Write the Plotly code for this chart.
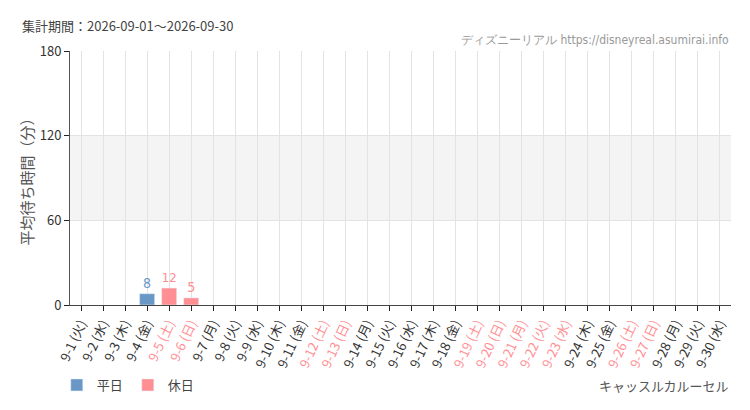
import plotly.graph_objects as go

# datos del periodo
dias = [str(d) for d in range(1, 31)]
youbi = ['火', '水', '木', '金', '土', '日', '月', '火', '水', '木', '金', '土', '日', '月', '火',
         '水', '木', '金', '土', '日', '月', '火', '水', '木', '金', '土', '日', '月', '火', '水']
kyujitsu = [5, 6, 12, 13, 19, 20, 21, 22, 23, 26, 27]  # dias festivos / fin de semana
heijitsu_val = {4: 8}
kyujitsu_val = {5: 12, 6: 5}

AZUL = '#6a98c6'
ROSA = '#ff8f93'
COND = 'DejaVu Sans Condensed, DejaVu Sans'

cats = ['9-{}'.format(d) for d in dias]
ticktext = []
for d, y in zip(dias, youbi):
    t = '9-{} ({})'.format(d, y)
    if int(d) in kyujitsu:
        t = '<span style="color:{}">{}</span>'.format(ROSA, t)
    ticktext.append(t)

y_hei = [heijitsu_val.get(int(d)) for d in dias]
y_kyu = [kyujitsu_val.get(int(d)) for d in dias]

fig = go.Figure()
fig.add_trace(go.Bar(x=cats, y=y_hei, name='平日', marker_color=AZUL,
                     text=y_hei, textposition='outside', cliponaxis=False,
                     textfont=dict(color=AZUL, size=14, family=COND)))
fig.add_trace(go.Bar(x=cats, y=y_kyu, name='休日', marker_color=ROSA,
                     text=y_kyu, textposition='outside', cliponaxis=False,
                     textfont=dict(color=ROSA, size=14, family=COND)))

# banda gris 60-120
fig.add_shape(type='rect', xref='paper', yref='y', x0=0, x1=1, y0=60, y1=120,
              fillcolor='#f4f4f4', line_width=0, layer='below')

fig.add_annotation(xref='paper', yref='paper', x=-0.076, y=1.10, xanchor='left', yanchor='middle',
                   text='集計期間：2026-09-01～2026-09-30', showarrow=False,
                   font=dict(size=13, color='#444'))
fig.add_annotation(xref='paper', yref='paper', x=1, y=1.045, xanchor='right', yanchor='middle',
                   text='ディズニーリアル https://disneyreal.asumirai.info', showarrow=False,
                   font=dict(size=12, color='#999', family=COND))
fig.add_annotation(xref='paper', yref='paper', x=1, y=-0.315, xanchor='right', yanchor='middle',
                   text='キャッスルカルーセル', showarrow=False,
                   font=dict(size=13, color='#555'))

# la pagina tiene 8px de margen en el body
fig.update_layout(width=742, height=402, margin=dict(l=62, r=19, t=43, b=105, autoexpand=False),
                  plot_bgcolor='white', paper_bgcolor='white',
                  barmode='overlay', bargap=0.32,
                  font=dict(family='Noto Sans CJK JP', color='#333'),
                  showlegend=True,
                  legend=dict(orientation='h', x=-0.02, y=-0.315, xanchor='left', yanchor='middle',
                              font=dict(size=13, color='#444')))

fig.update_xaxes(type='category', tickvals=cats, ticktext=ticktext, tickangle=-65,
                 showgrid=True, gridcolor='#e3e3e3', ticks='outside', ticklen=5,
                 tickcolor='#222', showline=True, linecolor='#444', linewidth=1,
                 tickfont=dict(size=13, color='#333'), automargin=False)
fig.update_yaxes(range=[0, 180], tickvals=[0, 60, 120, 180], showgrid=True,
                 gridcolor='#e3e3e3', ticks='outside', ticklen=5, tickcolor='#222',
                 showline=True, linecolor='#555', zeroline=False, automargin=False,
                 tickfont=dict(size=13, color='#333'),
                 title=dict(text='平均待ち時間（分）', font=dict(size=15, color='#555'), standoff=2))

fig.write_html('out.html')
